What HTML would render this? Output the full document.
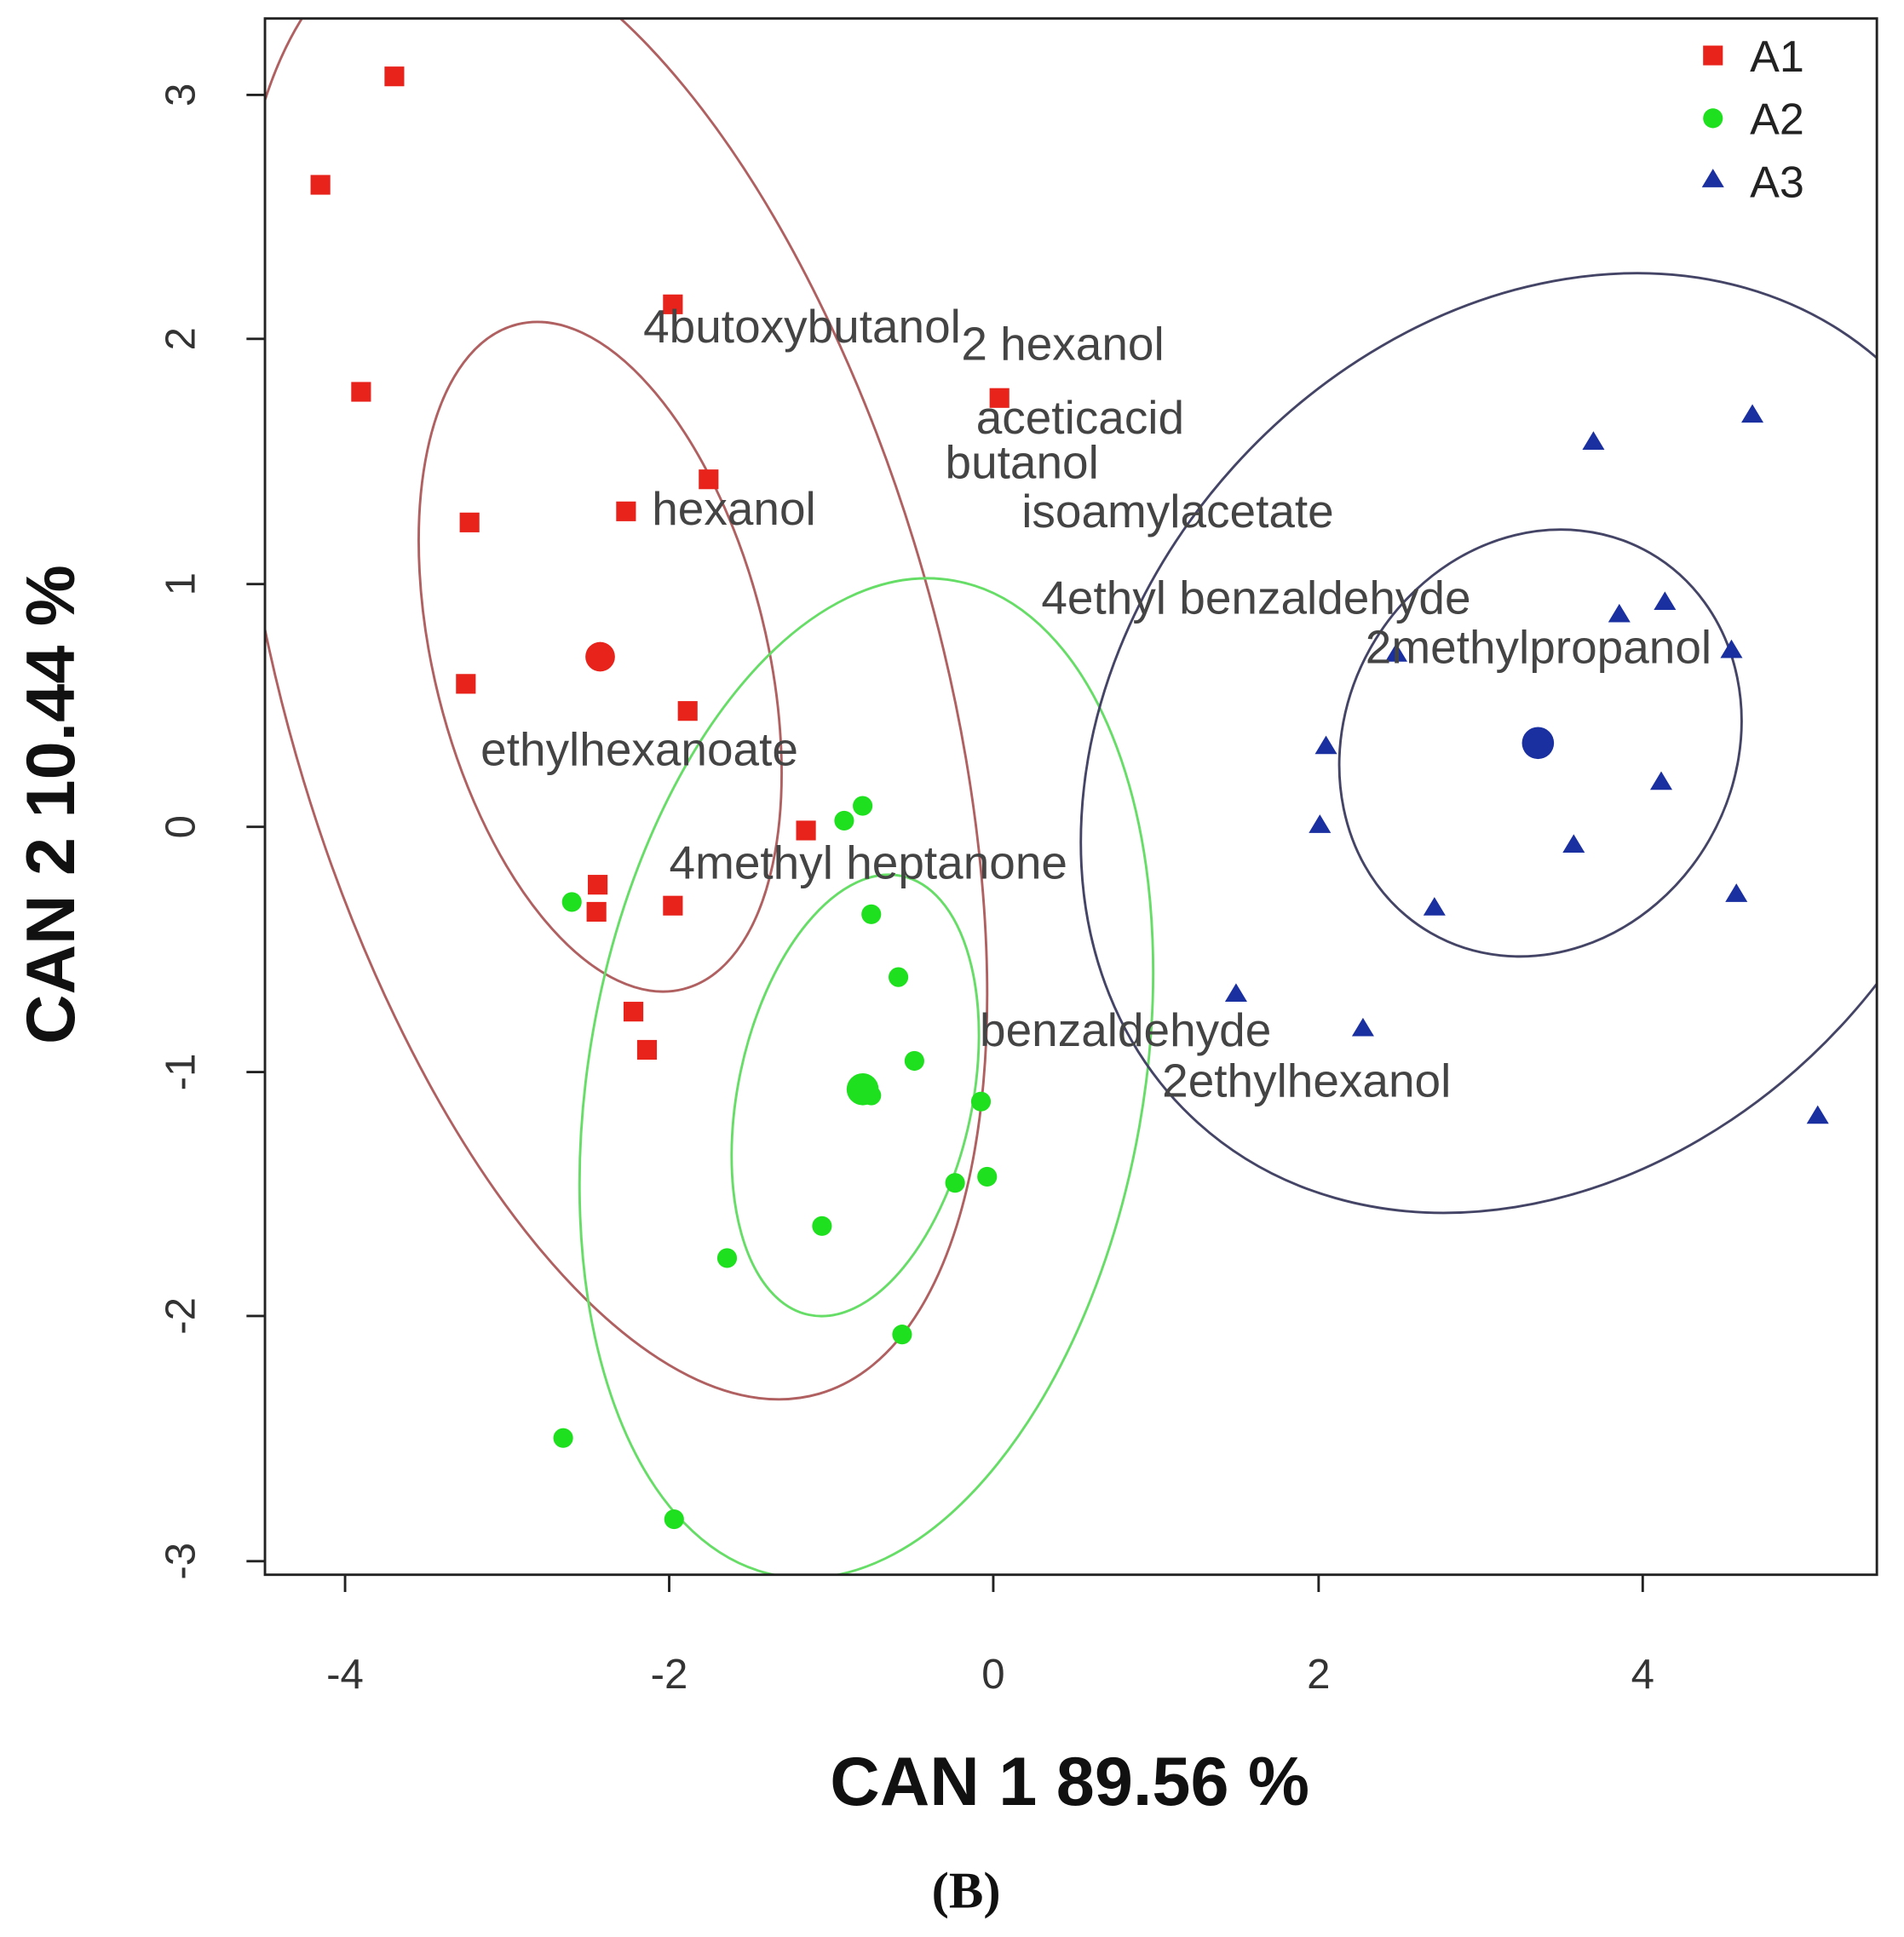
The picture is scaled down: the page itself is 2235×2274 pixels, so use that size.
<!DOCTYPE html>
<html><head><meta charset="utf-8"><style>html,body{margin:0;padding:0;background:#fff}svg{display:block}</style></head><body>
<svg width="2235" height="2274" viewBox="0 0 1545 1572" xmlns="http://www.w3.org/2000/svg" font-family="Liberation Sans, sans-serif">
<defs><clipPath id="c"><rect x="215" y="15" width="1308" height="1263"/></clipPath></defs>
<rect width="1545" height="1572" fill="#fff"/>
<g clip-path="url(#c)" fill="none" stroke-width="2">
<ellipse cx="487" cy="533" rx="135" ry="278" transform="rotate(-14 487 533)" stroke="#b06060"/>
<ellipse cx="495" cy="540" rx="265" ry="615" transform="rotate(-16 495 540)" stroke="#b06060"/>
<ellipse cx="694" cy="889" rx="95" ry="182" transform="rotate(12 694 889)" stroke="#66dd66"/>
<ellipse cx="703" cy="875" rx="225" ry="410" transform="rotate(10 703 875)" stroke="#66dd66"/>
<ellipse cx="1250" cy="603" rx="158" ry="178" transform="rotate(30 1250 603)" stroke="#444466"/>
<ellipse cx="1250" cy="603" rx="335" ry="415" transform="rotate(42 1250 603)" stroke="#444466"/>
</g>
<rect x="215" y="15" width="1308" height="1263" fill="none" stroke="#222" stroke-width="2"/>
<g stroke="#222" stroke-width="2">
<line x1="280" y1="1278" x2="280" y2="1292"/><line x1="543" y1="1278" x2="543" y2="1292"/><line x1="806" y1="1278" x2="806" y2="1292"/><line x1="1070" y1="1278" x2="1070" y2="1292"/><line x1="1333" y1="1278" x2="1333" y2="1292"/>
<line x1="215" y1="77" x2="200" y2="77"/><line x1="215" y1="275" x2="200" y2="275"/><line x1="215" y1="474" x2="200" y2="474"/><line x1="215" y1="671" x2="200" y2="671"/><line x1="215" y1="870" x2="200" y2="870"/><line x1="215" y1="1068" x2="200" y2="1068"/><line x1="215" y1="1267" x2="200" y2="1267"/>
</g>
<g font-size="34" fill="#333" text-anchor="middle">
<text x="280" y="1370">-4</text><text x="543" y="1370">-2</text><text x="806" y="1370">0</text><text x="1070" y="1370">2</text><text x="1333" y="1370">4</text>
<g transform="translate(158,0)">
<text transform="translate(0,77) rotate(-90)">3</text><text transform="translate(0,275) rotate(-90)">2</text><text transform="translate(0,474) rotate(-90)">1</text><text transform="translate(0,671) rotate(-90)">0</text><text transform="translate(0,870) rotate(-90)">-1</text><text transform="translate(0,1068) rotate(-90)">-2</text><text transform="translate(0,1267) rotate(-90)">-3</text>
</g></g>
<text x="868" y="1465" font-size="56" font-weight="bold" text-anchor="middle" fill="#111">CAN 1 89.56 %</text>
<text transform="translate(60,653) rotate(-90)" font-size="56" font-weight="bold" text-anchor="middle" fill="#111">CAN 2 10.44 %</text>
<text x="784" y="1548" font-size="42" font-weight="bold" text-anchor="middle" font-family="Liberation Serif, serif" fill="#111">(B)</text>
<g fill="#e8231c">
<rect x="252" y="142" width="16" height="16"/><rect x="312" y="54" width="16" height="16"/><rect x="285" y="310" width="16" height="16"/><rect x="373" y="416" width="16" height="16"/><rect x="370" y="547" width="16" height="16"/><rect x="538" y="239" width="16" height="16"/><rect x="567" y="381" width="16" height="16"/><rect x="500" y="407" width="16" height="16"/><rect x="550" y="569" width="16" height="16"/><rect x="646" y="666" width="16" height="16"/><rect x="477" y="710" width="16" height="16"/><rect x="476" y="732" width="16" height="16"/><rect x="538" y="727" width="16" height="16"/><rect x="506" y="813" width="16" height="16"/><rect x="517" y="844" width="16" height="16"/><rect x="803" y="315" width="16" height="16"/>
<circle cx="487" cy="533" r="12"/></g>
<g fill="#1ee01e">
<circle cx="700" cy="654" r="8"/><circle cx="685" cy="666" r="8"/><circle cx="464" cy="732" r="8"/><circle cx="707" cy="742" r="8"/><circle cx="729" cy="793" r="8"/><circle cx="742" cy="861" r="8"/><circle cx="796" cy="894" r="8"/><circle cx="775" cy="960" r="8"/><circle cx="801" cy="955" r="8"/><circle cx="667" cy="995" r="8"/><circle cx="590" cy="1021" r="8"/><circle cx="732" cy="1083" r="8"/><circle cx="457" cy="1167" r="8"/><circle cx="547" cy="1233" r="8"/><circle cx="707" cy="889" r="8"/>
<circle cx="700" cy="884" r="13"/></g>
<g fill="#1a2fa0">
<path d="M1293 350l9 15h-18z M1422 328l9 15h-18z M1314 490l9 15h-18z M1351 480l9 15h-18z M1405 519l9 15h-18z M1076 597l9 15h-18z M1071 661l9 15h-18z M1348 626l9 15h-18z M1277 677l9 15h-18z M1164 728l9 15h-18z M1409 717l9 15h-18z M1003 798l9 15h-18z M1106 826l9 15h-18z M1475 897l9 15h-18z M1133 522l9 15h-18z"/>
<circle cx="1248" cy="603" r="13"/></g>
<g font-size="38" fill="#444">
<text x="522" y="278">4butoxybutanol</text><text x="780" y="292">2 hexanol</text><text x="792" y="352">aceticacid</text><text x="767" y="388">butanol</text><text x="829" y="428">isoamylacetate</text><text x="529" y="426">hexanol</text><text x="845" y="498">4ethyl benzaldehyde</text><text x="1108" y="538">2methylpropanol</text><text x="390" y="621">ethylhexanoate</text><text x="543" y="713">4methyl heptanone</text><text x="795" y="849">benzaldehyde</text><text x="943" y="890">2ethylhexanol</text>
</g>
<rect x="1382" y="37" width="16" height="16" fill="#e8231c"/><text x="1420" y="58" font-size="36" fill="#222">A1</text>
<circle cx="1390" cy="96" r="8" fill="#1ee01e"/><text x="1420" y="109" font-size="36" fill="#222">A2</text>
<path d="M1390 137l9 15h-18z" fill="#1a2fa0"/><text x="1420" y="160" font-size="36" fill="#222">A3</text>
</svg>
</body></html>
